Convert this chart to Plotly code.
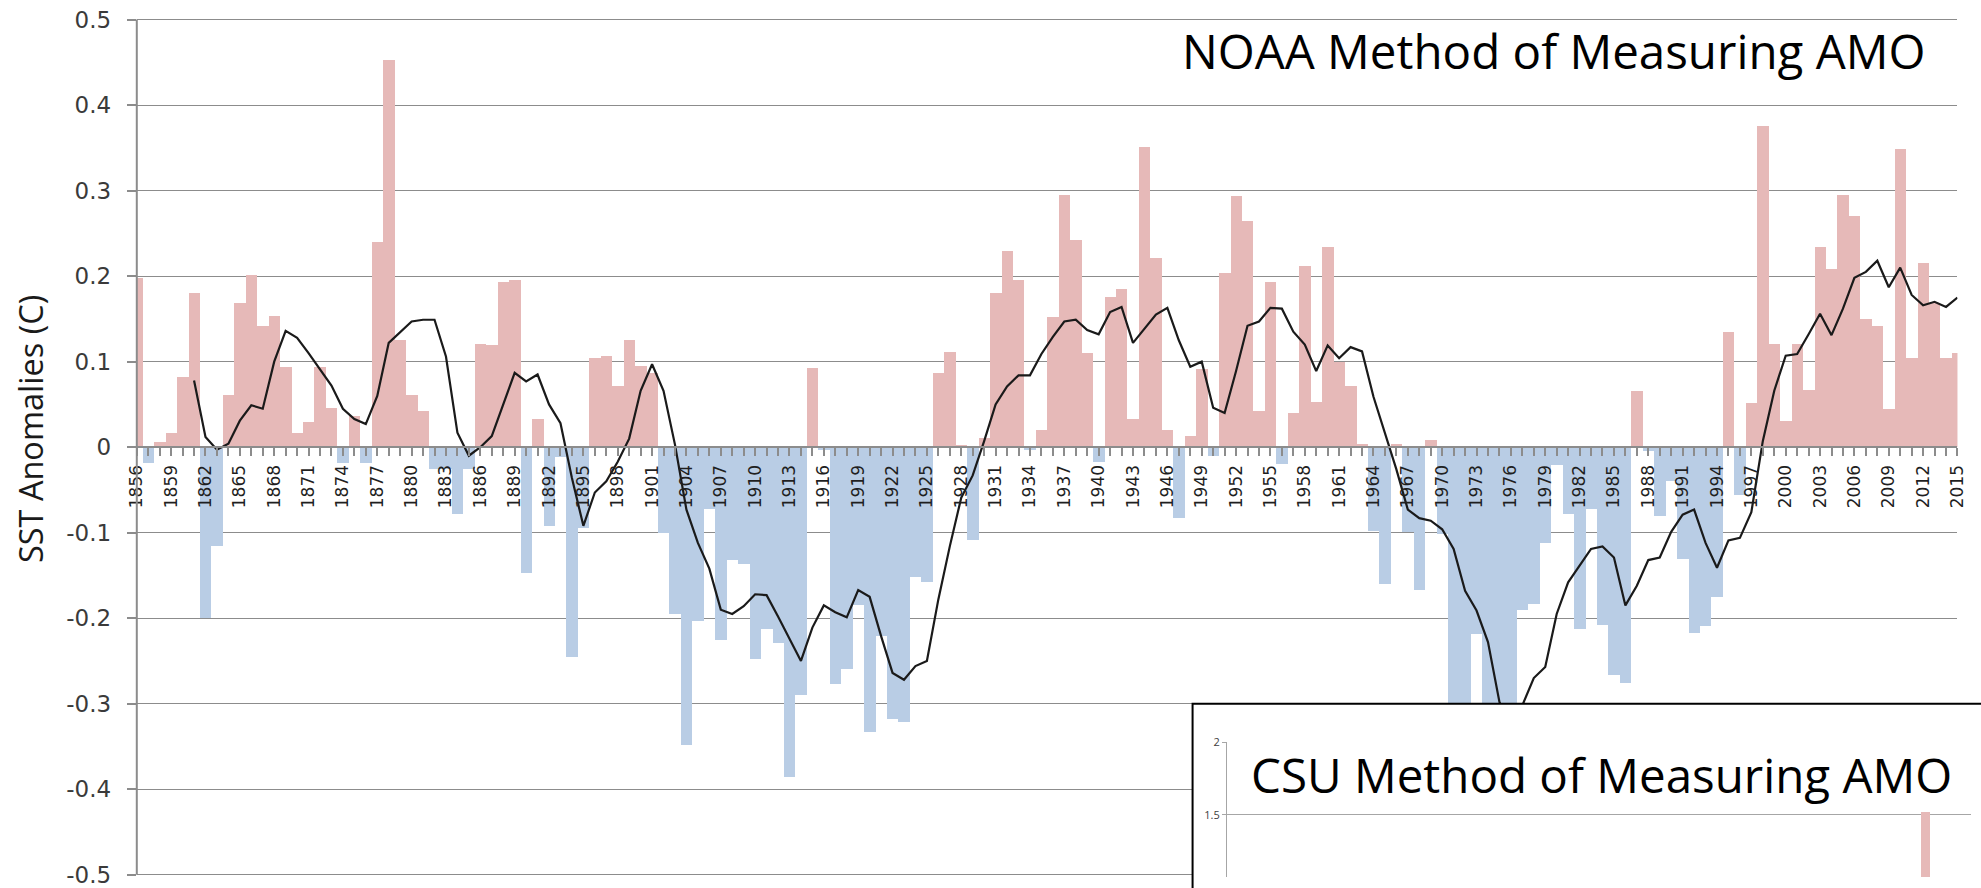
import plotly.graph_objects as go

# Annual North Atlantic SST anomaly (deg C), 1856-2015
years = list(range(1856, 2016))
sst_anomaly = [
    0.198, -0.019, 0.006, 0.016, 0.082, 0.180, -0.200, -0.116, 0.061, 0.168,   # 1856-1865
    0.201, 0.141, 0.153, 0.093, 0.016, 0.029, 0.093, 0.046, -0.019, 0.036,     # 1866-1875
    -0.019, 0.240, 0.452, 0.125, 0.061, 0.042, -0.026, -0.026, -0.078, -0.026, # 1876-1885
    0.121, 0.119, 0.193, 0.195, -0.147, 0.033, -0.092, -0.012, -0.246, -0.095, # 1886-1895
    0.104, 0.107, 0.071, 0.125, 0.095, 0.086, -0.100, -0.195, -0.349, -0.203,  # 1896-1905
    -0.073, -0.226, -0.132, -0.137, -0.248, -0.213, -0.229, -0.386, -0.290, 0.092,  # 1906-1915
    -0.004, -0.277, -0.259, -0.185, -0.333, -0.221, -0.318, -0.322, -0.152, -0.158, # 1916-1925
    0.086, 0.111, 0.002, -0.109, 0.011, 0.180, 0.229, 0.195, -0.003, 0.020,    # 1926-1935
    0.152, 0.295, 0.242, 0.110, -0.018, 0.176, 0.185, 0.033, 0.351, 0.221,     # 1936-1945
    0.020, -0.083, 0.013, 0.091, -0.010, 0.203, 0.294, 0.264, 0.042, 0.193,    # 1946-1955
    -0.020, 0.040, 0.212, 0.053, 0.234, 0.099, 0.071, 0.003, -0.098, -0.160,   # 1956-1965
    0.003, -0.099, -0.167, 0.008, -0.102, -0.360, -0.330, -0.219, -0.380, -0.400,  # 1966-1975
    -0.350, -0.191, -0.183, -0.112, -0.021, -0.078, -0.213, -0.073, -0.208, -0.267, # 1976-1985
    -0.276, 0.066, -0.005, -0.081, -0.040, -0.131, -0.218, -0.209, -0.175, 0.135,  # 1986-1995
    -0.056, 0.052, 0.375, 0.121, 0.031, 0.121, 0.067, 0.234, 0.208, 0.295,     # 1996-2005
    0.270, 0.150, 0.142, 0.045, 0.348, 0.104, 0.215, 0.168, 0.104, 0.110,      # 2006-2015
]

# Smoothed AMO curve, 1861-2015
smooth_years = list(range(1861, 2016))
smooth_amo = [
    0.078, 0.012, -0.003, 0.004, 0.031, 0.049, 0.045, 0.100, 0.136,          # 1861-1869
    0.128, 0.110, 0.091, 0.072, 0.045, 0.033, 0.027, 0.060, 0.122, 0.135,    # 1870-1879
    0.147, 0.149, 0.149, 0.106, 0.017, -0.010, 0.000, 0.013, 0.051, 0.087,   # 1880-1889
    0.077, 0.085, 0.050, 0.028, -0.036, -0.092, -0.053, -0.040, -0.017, 0.010,  # 1890-1899
    0.066, 0.097, 0.066, 0.003, -0.073, -0.112, -0.142, -0.190, -0.195, -0.186, # 1900-1909
    -0.172, -0.173, -0.198, -0.224, -0.250, -0.211, -0.185, -0.193, -0.199, -0.167, # 1910-1919
    -0.175, -0.221, -0.264, -0.272, -0.256, -0.250, -0.178, -0.116, -0.059, -0.033, # 1920-1929
    0.007, 0.050, 0.071, 0.084, 0.084, 0.109, 0.129, 0.147, 0.149, 0.137,    # 1930-1939
    0.132, 0.158, 0.164, 0.122, 0.139, 0.155, 0.163, 0.125, 0.094, 0.100,    # 1940-1949
    0.046, 0.040, 0.089, 0.142, 0.147, 0.163, 0.162, 0.135, 0.120, 0.089,    # 1950-1959
    0.119, 0.104, 0.117, 0.112, 0.059, 0.017, -0.026, -0.073, -0.083, -0.086,   # 1960-1969
    -0.096, -0.119, -0.168, -0.191, -0.228, -0.298, -0.330, -0.302, -0.270, -0.257, # 1970-1979
    -0.195, -0.158, -0.139, -0.119, -0.116, -0.129, -0.185, -0.162, -0.132, -0.129, # 1980-1989
    -0.099, -0.079, -0.073, -0.112, -0.141, -0.109, -0.106, -0.076, 0.007, 0.066,  # 1990-1999
    0.107, 0.109, 0.132, 0.156, 0.131, 0.162, 0.198, 0.205, 0.218, 0.187,    # 2000-2009
    0.210, 0.178, 0.166, 0.170, 0.164, 0.175,                                # 2010-2015
]

# Inset (CSU index): only the bar reaching above 1.0 shows inside the frame
csu_years = [2010]
csu_values = [1.52]

y_tickvals = [0.5, 0.4, 0.3, 0.2, 0.1, 0.0, -0.1, -0.2, -0.3, -0.4, -0.5]
y_ticktext = ["0.5", "0.4", "0.3", "0.2", "0.1", "0", "-0.1", "-0.2", "-0.3", "-0.4", "-0.5"]
inset_tickvals = [1.5, 2.0]
inset_ticktext = ["1.5", "2"]

W, H = 1981, 888
POS = "#E6B9B8"
NEG = "#B9CDE5"
GRID = "#8C8C8C"

# The page around the figure carries an 8px body margin and is shown fitted
# to W x H, so layout targets (in shown pixels) are mapped back to figure pixels.
MARGIN = 8
SX, SY = W / (W + 2 * MARGIN), H / (H + 2 * MARGIN)

def fig_px_x(t):
    return t / SX - MARGIN

def fig_px_y(t):
    return t / SY - MARGIN

def px_x(t):
    return fig_px_x(t) / W

def px_y(t):
    return 1 - fig_px_y(t) / H

def raw_x(p):
    return p / W

def raw_y(p):
    return 1 - p / H

# main value axis: 0 at 448.2, 0.5 at 18.5 (shown pixels)
zero_p = fig_px_y(448.2)
unit_p = (fig_px_y(877.9) - fig_px_y(18.5)) / 1.0
y_max = 0.504
y_min = -(H - zero_p) / unit_p
main_ydom = [0, 1 - (zero_p - y_max * unit_p) / H]
zero_pos = 1 - zero_p / H

# inset value axis: 2.0 at 745, 1.5 at 817.7 (shown pixels), down to the figure bottom
p20, p15 = fig_px_y(745.0), fig_px_y(817.7)
inset_unit = (p15 - p20) / 0.5
inset_max = 2.003
inset_min = 1.5 - (H - p15) / inset_unit
inset_ydom = [0, 1 - (p20 - 0.003 * inset_unit) / H]

# inset category axis placing the bar centre at 1927.5 (shown pixels)
inset_x0 = fig_px_x(1227.5)
inset_span = 66.0
inset_ppu = (W - inset_x0) / inset_span
inset_left = csu_years[0] - (fig_px_x(1927.5) - inset_x0) / inset_ppu

bar_colors = [POS if v >= 0 else NEG for v in sst_anomaly]

fig = go.Figure()
fig.add_trace(go.Bar(
    x=years, y=sst_anomaly, width=1.0,
    marker=dict(color=bar_colors, line=dict(width=0)),
    xaxis="x", yaxis="y", showlegend=False,
))
fig.add_trace(go.Scatter(
    x=smooth_years, y=smooth_amo, mode="lines",
    line=dict(color="#1a1a1a", width=2.2),
    xaxis="x", yaxis="y", showlegend=False,
))
# white panel that carries the inset frame
fig.add_trace(go.Scatter(x=[], y=[], xaxis="x2", yaxis="y2", showlegend=False))
# inset chart
fig.add_trace(go.Bar(
    x=csu_years, y=csu_values, width=9.0 / SX / inset_ppu,
    marker=dict(color=POS, line=dict(width=0)),
    xaxis="x3", yaxis="y3", showlegend=False,
))

fig.update_layout(
    width=W, height=H,
    margin=dict(l=0, r=0, t=0, b=0),
    paper_bgcolor="white", plot_bgcolor="white",
    bargap=0,
    xaxis=dict(
        domain=[px_x(135), px_x(1959.5)],
        range=[1856, 2015],
        anchor="free", position=zero_pos,
        showgrid=False, zeroline=False,
        showline=True, linecolor=GRID, linewidth=2,
        tickmode="linear", tick0=1856, dtick=3,
        ticks="outside", ticklen=8, tickwidth=1.5, tickcolor=GRID,
        tickangle=-90,
        tickfont=dict(family="DejaVu Sans", size=17, color="#1f1f1f"),
        ticklabelstandoff=2,
        minor=dict(tickmode="linear", tick0=1856, dtick=1, ticks="outside",
                   ticklen=8, tickwidth=1.5, tickcolor=GRID, showgrid=False),
    ),
    yaxis=dict(
        domain=main_ydom,
        range=[y_min, y_max],
        anchor="x",
        tickmode="array", tickvals=y_tickvals, ticktext=y_ticktext,
        showgrid=True, gridcolor=GRID, gridwidth=1.3,
        zeroline=False,
        showline=False,
        ticks="outside", ticklen=9, tickwidth=1.5, tickcolor=GRID,
        tickfont=dict(family="DejaVu Sans", size=23, color="#3a3a3a"),
        ticklabelstandoff=11,
        ticklabeloverflow="allow",
    ),
    xaxis2=dict(domain=[px_x(1193), 1], range=[0, 1], visible=False, anchor="y2"),
    yaxis2=dict(domain=[0, px_y(706)], range=[0, 1], visible=False, anchor="x2"),
    xaxis3=dict(domain=[inset_x0 / W, 1], range=[inset_left, inset_left + inset_span],
                visible=False, anchor="y3"),
    yaxis3=dict(
        domain=inset_ydom,
        range=[inset_min, inset_max],
        anchor="x3",
        tickmode="array", tickvals=inset_tickvals, ticktext=inset_ticktext,
        showgrid=True, gridcolor="#A6A6A6", gridwidth=1,
        zeroline=False,
        showline=True, linecolor="#A6A6A6", linewidth=1,
        ticks="outside", ticklen=4, tickcolor="#A6A6A6",
        tickfont=dict(family="Open Sans", size=11, color="#404040"),
        ticklabeloverflow="allow",
    ),
    shapes=[
        # left value-axis line, running from +0.5 to -0.5
        dict(type="line", xref="paper", yref="y",
             x0=px_x(135), x1=px_x(135), y0=-0.5, y1=0.5,
             line=dict(color=GRID, width=2), layer="above"),
        # inset frame
        dict(type="rect", xref="paper", yref="paper",
             x0=px_x(1193), x1=1.02, y0=-0.02, y1=px_y(706),
             line=dict(color="black", width=2), fillcolor="rgba(0,0,0,0)",
             layer="above"),
    ],
    annotations=[
        dict(text="NOAA Method of Measuring AMO", xref="paper", yref="paper",
             x=raw_x(1182), y=raw_y(42), xanchor="left", yanchor="middle",
             showarrow=False, font=dict(family="Open Sans", size=47.5, color="black")),
        dict(text="CSU Method of Measuring AMO", xref="paper", yref="paper",
             x=raw_x(1252), y=raw_y(783), xanchor="left", yanchor="middle",
             showarrow=False, font=dict(family="Open Sans", size=47.5, color="black")),
        dict(text="SST Anomalies (C)", xref="paper", yref="paper",
             x=raw_x(21), y=raw_y(430), xanchor="center", yanchor="middle",
             textangle=-90, showarrow=False,
             font=dict(family="Open Sans", size=32.5, color="#1a1a1a")),
    ],
)

fig.write_html("out.html")
